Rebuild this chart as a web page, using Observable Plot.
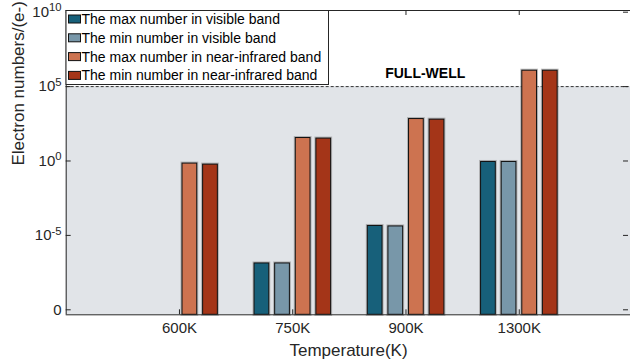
<!DOCTYPE html>
<html><head><meta charset="utf-8">
<script src="https://cdn.jsdelivr.net/npm/d3@7"></script>
<script src="https://cdn.jsdelivr.net/npm/@observablehq/plot@0.6"></script>
<style>
body{margin:0;background:#fff;}
</style></head><body><div id="chart"></div>
<script>
const temperatures = ["600K", "750K", "900K", "1300K"];
const seriesNames = [
  "The max number in visible band",
  "The min number in visible band",
  "The max number in near-infrared band",
  "The min number in near-infrared band"
];
const seriesColors = ["#17607a", "#7897a9", "#cd7350", "#a43518"];
const visibleMax = [0, 1.3e-7, 4.3e-5, 0.86];
const visibleMin = [0, 1.3e-7, 4.0e-5, 0.86];
const nirMax = [0.67, 35, 660, 1.17e6];
const nirMin = [0.57, 32, 600, 1.17e6];
const fullWell = 1e5;
const fullWellLabel = "FULL-WELL";
const yTicks = [1e-10, 1e-5, 1, 1e5, 1e10];
const yTickLabels = ["0", "10^-5", "10^0", "10^5", "10^10"];
const xLabel = "Temperature(K)";
const yLabel = "Electron numbers/(e-)";

// layout
const yMin = Math.pow(10, -10.336), yMax = Math.pow(10, 10.114);
const pxPerDec = (314.3 - 10) / (10.114 + 10.336);
const pxPerUnit = (632 - 65.7) / 5;
const offsets = [-0.272, -0.09, 0.092, 0.274];
const bw = 0.13;
const tickLenX = 5 / pxPerUnit;
const tickFac = Math.pow(10, 5 / pxPerDec);

const series = [visibleMax, visibleMin, nirMax, nirMin];
const bars = [];
temperatures.forEach((t, i) => series.forEach((arr, s) => bars.push({x: i + 1, s, v: arr[i]})));

const x1 = d => d.x + offsets[d.s] - bw / 2;
const x2 = d => d.x + offsets[d.s] + bw / 2;
const y2 = d => Math.max(d.v, yMin);

const plot = Plot.plot({
  width: 630, height: 362,
  marginLeft: 66, marginRight: 0, marginTop: 10, marginBottom: 48,
  x: {type: "linear", domain: [0, 5], range: [65.7, 632]},
  y: {type: "log", domain: [yMin, yMax], range: [314.3, 10]},
  style: {fontFamily: "'Liberation Sans', Arial, sans-serif", fontSize: "15px", color: "#262626", background: "#fff", overflow: "visible"},
  marks: [
    Plot.rect([fullWell], {x1: 0, x2: 5, y1: yMin, y2: d => d, fill: "#e1e4e8"}),
    Plot.ruleY([fullWell], {x1: 0, x2: 5, stroke: "#333", strokeWidth: 1, strokeDasharray: "3,2"}),
    Plot.text([fullWell], {x: 3.17, y: d => d, text: () => fullWellLabel, dy: -13, fontWeight: "bold", fontSize: 14, fill: "#000"}),
    Plot.rect(bars, {x1, x2, y1: yMin, y2, fill: "none", stroke: "#8c8c8c", strokeWidth: 3, strokeOpacity: 0.6}),
    Plot.rect(bars, {x1, x2, y1: yMin, y2, fill: d => seriesColors[d.s], stroke: "#111", strokeWidth: 1}),
    // frame lines
    Plot.ruleX([0], {y1: yMin, y2: yMax, stroke: "#262626"}),
    Plot.ruleY([yMin], {x1: 0, x2: 5, stroke: "#262626"}),
    Plot.ruleY([yMax], {x1: 0, x2: 5, stroke: "#262626"}),
    // inward ticks
    Plot.ruleX([1, 2, 3, 4], {y1: yMin, y2: yMin * tickFac, stroke: "#262626"}),
    Plot.ruleX([1, 2, 3, 4], {y1: yMax, y2: yMax / tickFac, stroke: "#262626"}),
    Plot.ruleY(yTicks, {x1: 0, x2: tickLenX, stroke: "#262626"}),
    Plot.ruleY(yTicks, {x1: 5 - 1.0 * tickLenX, x2: 5, dx: -4, stroke: "#262626"}),
    Plot.axisX([1, 2, 3, 4], {anchor: "bottom", tickSize: 0, tickPadding: 8, tickFormat: d => temperatures[d - 1], fontSize: 15, label: null}),
    Plot.axisY(yTicks, {anchor: "left", tickSize: 0, tickPadding: 5, tickFormat: d => yTickLabels[yTicks.indexOf(d)], fontSize: 15, label: null}),
    Plot.text([xLabel], {frameAnchor: "bottom", dy: 41, fontSize: 17, fill: "#262626"}),
    Plot.text([yLabel], {frameAnchor: "left", rotate: -90, dx: -48, dy: 3, fontSize: 17, fill: "#262626"})
  ]
});

document.getElementById("chart").appendChild(plot);
const svg = d3.select(plot.tagName === "svg" ? plot : plot.querySelector("svg"));

// superscript exponents on tick labels
svg.selectAll("text").each(function () {
  const t = this.textContent;
  if (/^10\^/.test(t)) {
    const exp = t.slice(3);
    const sel = d3.select(this);
    sel.text("");
    sel.append("tspan").text("10");
    sel.append("tspan").attr("dy", "-0.5em").attr("font-size", "0.75em").text(exp);
  }
});

// legend
const lg = svg.append("g").attr("font-family", "'Liberation Sans', Arial, sans-serif").attr("font-size", 14).attr("text-anchor", "start");
lg.append("rect").attr("x", 66).attr("y", 10.5).attr("width", 262.5).attr("height", 74)
  .attr("fill", "#fff").attr("stroke", "#262626").attr("stroke-width", 1);
seriesNames.forEach((name, i) => {
  const cy = 19 + i * 18.8;
  lg.append("rect").attr("x", 68.5).attr("y", cy - 4).attr("width", 12).attr("height", 8)
    .attr("fill", seriesColors[i]).attr("stroke", "#111").attr("stroke-width", 1);
  lg.append("text").attr("x", 81.5).attr("y", cy).attr("dy", "0.35em").attr("text-anchor", "start").attr("fill", "#000").text(name);
});
</script>
</body></html>
